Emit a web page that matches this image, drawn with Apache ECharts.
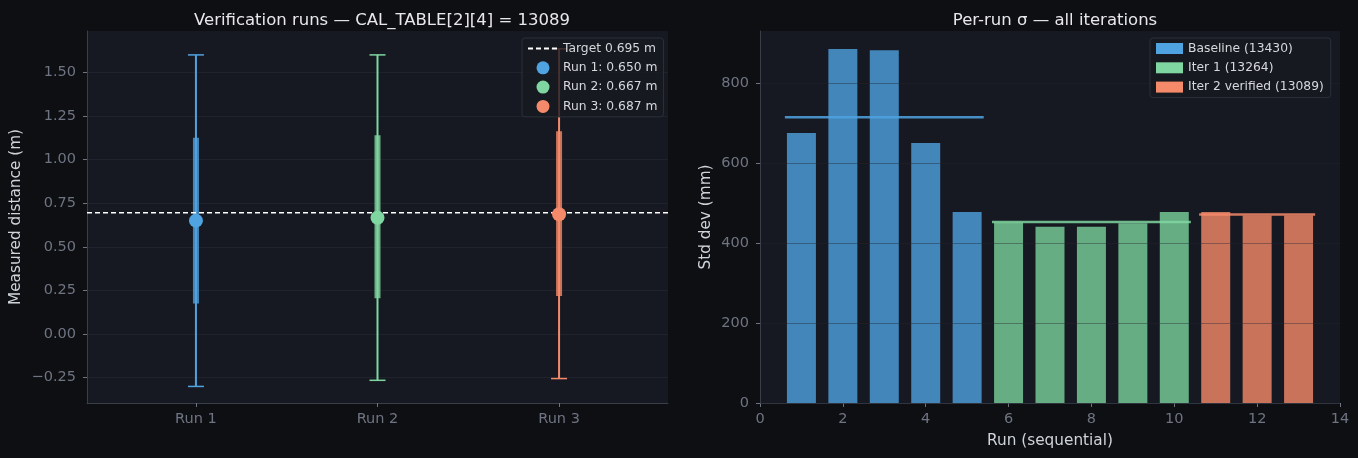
<!DOCTYPE html>
<html>
<head>
<meta charset="utf-8">
<title>Verification runs</title>
<style>
html,body{margin:0;padding:0;background:#0e0f13;}
#chart{width:1358px;height:458px;}
</style>
<script src="https://cdn.jsdelivr.net/npm/echarts@6/dist/echarts.min.js"></script>
</head>
<body>
<div id="chart"></div>
<script>
// left panel - verification runs (m)
var runLabels = ['Run 1', 'Run 2', 'Run 3'];
var runMeans = [0.650, 0.667, 0.687];
var whiskerLow = [-0.300, -0.265, -0.255];
var whiskerHigh = [1.600, 1.600, 1.635];
var boxLow = [0.175, 0.205, 0.218];
var boxHigh = [1.125, 1.140, 1.162];
var target = 0.695;
var leftTicks = [-0.25, 0, 0.25, 0.5, 0.75, 1.0, 1.25, 1.5];

// right panel - per-run sigma (mm)
var baselineRuns = [1, 2, 3, 4, 5];
var baselineSigma = [676, 886, 883, 651, 478];
var iter1Runs = [6, 7, 8, 9, 10];
var iter1Sigma = [452, 441, 441, 450, 478];
var iter2Runs = [11, 12, 13];
var iter2Sigma = [478, 469, 469];
var groupMeans = [715, 453, 472];
var groupNames = ['Baseline (13430)', 'Iter 1 (13264)', 'Iter 2 verified (13089)'];
var rightTicks = [0, 200, 400, 600, 800];

var colors = ['#4fa3e0', '#7fd6a0', '#f58a6a'];
var barColors = ['#4286ba', '#67ad84', '#c9735b'];
var tickColor = '#6f7482';
var nameColor = '#cfd3da';
var spineColor = '#3a3e48';
var FONT = 'DejaVu Sans';

function fmtLeft(v) {
    return v < 0 ? '\u2212' + Math.abs(v).toFixed(2) : v.toFixed(2);
}

function renderErr(params, api) {
    var i = params.dataIndex;
    var x = api.value(0);
    var top = api.coord([x, api.value(2)]);
    var bot = api.coord([x, api.value(1)]);
    var bTop = api.coord([x, api.value(4)]);
    var bBot = api.coord([x, api.value(3)]);
    var c = colors[i];
    var cap = 8;
    return {
        type: 'group',
        children: [
            {type: 'line', shape: {x1: top[0], y1: top[1], x2: bot[0], y2: bot[1]}, style: {stroke: c, lineWidth: 2}},
            {type: 'line', shape: {x1: top[0] - cap, y1: top[1], x2: top[0] + cap, y2: top[1]}, style: {stroke: c, lineWidth: 1.5}},
            {type: 'line', shape: {x1: bot[0] - cap, y1: bot[1], x2: bot[0] + cap, y2: bot[1]}, style: {stroke: c, lineWidth: 1.5}},
            {type: 'rect', shape: {x: bTop[0] - 3, y: bTop[1], width: 6, height: bBot[1] - bTop[1]}, style: {fill: c, opacity: 0.8}}
        ]
    };
}

var errData = [];
for (var i = 0; i < runMeans.length; i++) {
    errData.push([i, whiskerLow[i], whiskerHigh[i], boxLow[i], boxHigh[i]]);
}

var targetName = 'Target ' + target.toFixed(3) + ' m';
var series = [
    {
        name: targetName,
        type: 'line', xAxisIndex: 0, yAxisIndex: 0,
        data: [[-0.6, target], [2.6, target]],
        symbol: 'none', silent: true, z: 4,
        lineStyle: {color: '#ffffff', width: 1.5, type: [5, 3]},
        itemStyle: {color: '#ffffff'}
    },
    {
        type: 'custom', xAxisIndex: 0, yAxisIndex: 0,
        data: errData, renderItem: renderErr, z: 2, silent: true
    }
];
var leftLegend = [{name: targetName, itemStyle: {color: 'transparent', borderWidth: 0}}];
runMeans.forEach(function (m, i) {
    var nm = runLabels[i] + ': ' + m.toFixed(3) + ' m';
    leftLegend.push({name: nm});
    series.push({
        name: nm, type: 'scatter', xAxisIndex: 0, yAxisIndex: 0,
        data: [[i, m]], symbolSize: 14, z: 5,
        itemStyle: {color: colors[i], opacity: 1}
    });
});

var groups = [
    [baselineRuns, baselineSigma],
    [iter1Runs, iter1Sigma],
    [iter2Runs, iter2Sigma]
];
var rightLegend = [];
groups.forEach(function (g, k) {
    var d = g[0].map(function (r, j) { return [r, g[1][j]]; });
    series.push({
        name: groupNames[k], type: 'bar', xAxisIndex: 1, yAxisIndex: 1,
        data: d, barWidth: 29, barGap: '-100%', z: 2,
        itemStyle: {color: barColors[k]}
    });
    var lo = g[0][0] - 0.4, hi = g[0][g[0].length - 1] + 0.4;
    series.push({
        type: 'line', xAxisIndex: 1, yAxisIndex: 1,
        data: [[lo, groupMeans[k]], [hi, groupMeans[k]]],
        symbol: 'none', silent: true, z: 4,
        lineStyle: {color: colors[k], width: 2.5, opacity: 0.85}
    });
    rightLegend.push({name: groupNames[k], itemStyle: {color: colors[k]}});
});

var chart = echarts.init(document.getElementById('chart'));
chart.setOption({
    backgroundColor: '#0e0f13',
    animation: false,
    textStyle: {fontFamily: FONT},
    title: [
        {text: 'Verification runs \u2014 CAL_TABLE[2][4] = 13089', left: 377, top: 7, textAlign: 'center',
         textStyle: {color: '#e8e8ea', fontSize: 16.5, fontWeight: 'normal', fontFamily: FONT}},
        {text: 'Per-run \u03c3 \u2014 all iterations', left: 1050, top: 7, textAlign: 'center',
         textStyle: {color: '#e8e8ea', fontSize: 16.5, fontWeight: 'normal', fontFamily: FONT}}
    ],
    legend: [
        {
            data: leftLegend, orient: 'vertical', left: 522, top: 38,
            itemWidth: 30, itemHeight: 13, itemGap: 6.3,
            textStyle: {color: '#d6d8dc', fontSize: 12.3, lineHeight: 13, fontFamily: FONT},
            backgroundColor: 'rgba(22,25,33,0.8)', borderColor: '#2c303a', borderWidth: 1,
            borderRadius: 3, padding: [4, 6, 4, 5]
        },
        {
            data: rightLegend, orient: 'vertical', left: 1150, top: 38,
            icon: 'rect', itemWidth: 27, itemHeight: 11, itemGap: 6.3,
            textStyle: {color: '#d6d8dc', fontSize: 12.3, lineHeight: 13, fontFamily: FONT},
            backgroundColor: 'rgba(22,25,33,0.8)', borderColor: '#2c303a', borderWidth: 1,
            borderRadius: 3, padding: [4, 7, 4, 6]
        }
    ],
    grid: [
        {left: 87, right: 690, top: 31, bottom: 55, show: true, backgroundColor: '#161921', borderWidth: 0},
        {left: 760, right: 18, top: 31, bottom: 55, show: true, backgroundColor: '#161921', borderWidth: 0}
    ],
    xAxis: [
        {
            type: 'value', gridIndex: 0, min: -0.6, max: 2.6,
            splitLine: {show: false},
            axisLine: {onZero: false, lineStyle: {color: spineColor}},
            axisTick: {show: true, customValues: [0, 1, 2], length: 4, lineStyle: {color: tickColor}},
            axisLabel: {customValues: [0, 1, 2], color: tickColor, fontSize: 14.5, margin: 9,
                        formatter: function (v) { return runLabels[Math.round(v)]; }}
        },
        {
            type: 'value', gridIndex: 1, min: 0, max: 14, interval: 2,
            splitLine: {show: false},
            axisLine: {onZero: false, lineStyle: {color: spineColor}},
            axisTick: {show: true, length: 4, lineStyle: {color: tickColor}},
            axisLabel: {color: tickColor, fontSize: 14.5, margin: 9},
            name: 'Run (sequential)', nameLocation: 'middle', nameGap: 31,
            nameTextStyle: {color: nameColor, fontSize: 15.3}
        }
    ],
    yAxis: [
        {
            type: 'value', gridIndex: 0, min: -0.395, max: 1.737,
            axisLine: {show: true, onZero: false, lineStyle: {color: spineColor}},
            axisTick: {show: true, customValues: leftTicks, length: 4, lineStyle: {color: tickColor}},
            axisLabel: {customValues: leftTicks, color: tickColor, fontSize: 14.5, margin: 11, formatter: fmtLeft},
            splitLine: {show: true, lineStyle: {color: '#1f232c', width: 1}},
            name: 'Measured distance (m)', nameLocation: 'middle', nameGap: 63,
            nameTextStyle: {color: nameColor, fontSize: 15.3}
        },
        {
            type: 'value', gridIndex: 1, min: 0, max: 931, z: 3,
            axisLine: {show: true, onZero: false, lineStyle: {color: spineColor}},
            axisTick: {show: true, customValues: rightTicks, length: 4, lineStyle: {color: tickColor}},
            axisLabel: {customValues: rightTicks, color: tickColor, fontSize: 14.5, margin: 11},
            splitLine: {show: true, lineStyle: {color: 'rgba(34,38,48,0.4)', width: 1}},
            name: 'Std dev (mm)', nameLocation: 'middle', nameGap: 46,
            nameTextStyle: {color: nameColor, fontSize: 15.3}
        }
    ],
    series: series
});
</script>
</body>
</html>
